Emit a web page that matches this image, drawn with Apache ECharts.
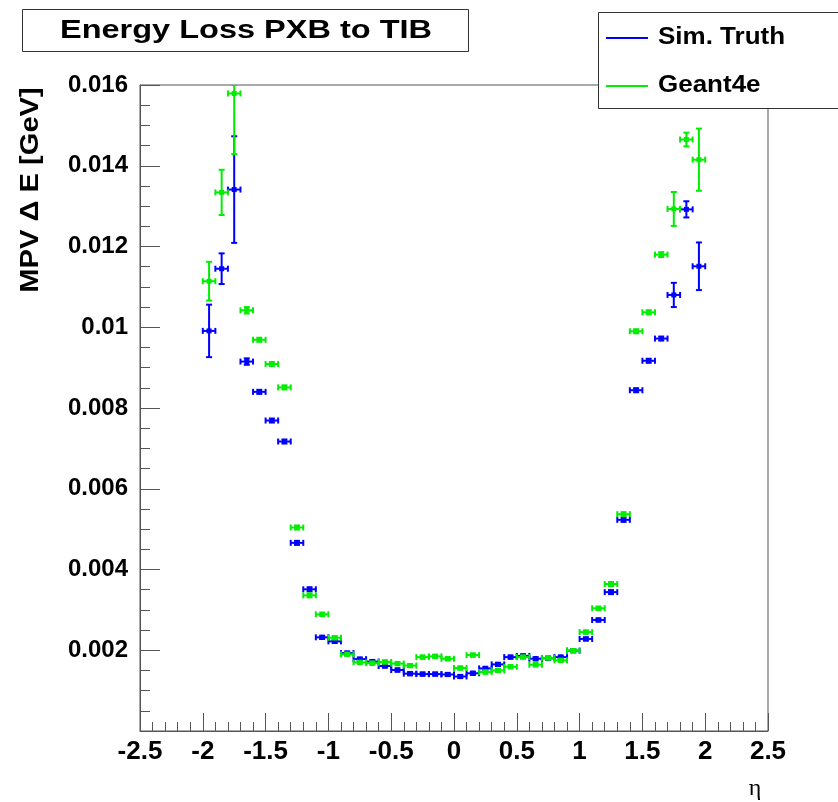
<!DOCTYPE html>
<html>
<head>
<meta charset="utf-8">
<script src="https://cdn.jsdelivr.net/npm/echarts@6/dist/echarts.min.js"></script>
<style>
html,body{margin:0;padding:0;background:#fff;}
#chart{width:838px;height:802px;}
</style>
</head>
<body>
<div id="chart"></div>
<script>
// ---- data ----
const etaBins = [-1.95,-1.85,-1.75,-1.65,-1.55,-1.45,-1.35,-1.25,-1.15,-1.05,-0.95,-0.85,-0.75,-0.65,-0.55,-0.45,-0.35,-0.25,-0.15,-0.05,0.05,0.15,0.25,0.35,0.45,0.55,0.65,0.75,0.85,0.95,1.05,1.15,1.25,1.35,1.45,1.55,1.65,1.75,1.85,1.95];
const etaHalfWidth = 0.05;
const simTruth = [0.00991,0.01145,0.01341,0.00915,0.00840,0.00769,0.00717,0.00466,0.00351,0.00232,0.00222,0.00193,0.00178,0.00172,0.00161,0.00151,0.00142,0.00141,0.00141,0.00140,0.00135,0.00143,0.00155,0.00165,0.00183,0.00186,0.00179,0.00180,0.00183,0.00199,0.00228,0.00275,0.00344,0.00523,0.00844,0.00917,0.00972,0.01080,0.01292,0.01151];
const simTruthErr = [0.00065,0.00038,0.00132,0.00008,0.00005,0.00005,0.00005,0.00005,0.00005,0.00004,0.00004,0.00004,0.00004,0.00004,0.00004,0.00004,0.00004,0.00004,0.00004,0.00004,0.00004,0.00004,0.00004,0.00004,0.00004,0.00004,0.00004,0.00004,0.00004,0.00004,0.00004,0.00004,0.00005,0.00005,0.00005,0.00005,0.00005,0.00030,0.00020,0.00059];
const geant4e = [0.01114,0.01334,0.01579,0.01042,0.00969,0.00909,0.00851,0.00504,0.00336,0.00289,0.00231,0.00190,0.00170,0.00168,0.00171,0.00167,0.00162,0.00183,0.00185,0.00179,0.00156,0.00188,0.00146,0.00150,0.00159,0.00183,0.00164,0.00181,0.00175,0.00199,0.00245,0.00304,0.00364,0.00537,0.00990,0.01037,0.01180,0.01293,0.01465,0.01415];
const geant4eErr = [0.00048,0.00056,0.00150,0.00008,0.00005,0.00005,0.00005,0.00005,0.00005,0.00004,0.00004,0.00004,0.00004,0.00004,0.00004,0.00004,0.00004,0.00004,0.00004,0.00004,0.00004,0.00004,0.00004,0.00004,0.00004,0.00004,0.00004,0.00004,0.00004,0.00004,0.00004,0.00004,0.00005,0.00005,0.00005,0.00005,0.00006,0.00042,0.00017,0.00077];
const xTickMin = -2.5, xTickMax = 2.5, xTickStep = 0.5;
const yTickMin = 0, yTickMax = 0.016, yTickStep = 0.002;
const titleText = 'Energy Loss PXB to TIB';
const seriesNames = ['Sim. Truth', 'Geant4e'];
const seriesColors = ['#0000ff', '#00ee00'];
const yTitle = 'MPV \u0394 E [GeV]';
const xTitle = '\u03b7';

function buildData(vals, errs) {
  return etaBins.map((x, i) => [x, vals[i], errs[i]]);
}

function renderErr(params, api) {
  const x = api.value(0), y = api.value(1), e = api.value(2);
  const color = api.visual('color');
  const c = api.coord([x, y]);
  const l = api.coord([x - etaHalfWidth, y]);
  const r = api.coord([x + etaHalfWidth, y]);
  const t = api.coord([x, Math.min(y + e, yTickMax)]);
  const b = api.coord([x, Math.max(y - e, yTickMin)]);
  const st = {stroke: color, lineWidth: 2};
  const cap = 3;
  return {
    type: 'group',
    children: [
      {type: 'line', shape: {x1: l[0], y1: c[1], x2: r[0], y2: c[1]}, style: st},
      {type: 'line', shape: {x1: l[0], y1: c[1] - cap, x2: l[0], y2: c[1] + cap}, style: st},
      {type: 'line', shape: {x1: r[0], y1: c[1] - cap, x2: r[0], y2: c[1] + cap}, style: st},
      {type: 'line', shape: {x1: c[0], y1: t[1], x2: c[0], y2: b[1]}, style: st},
      {type: 'line', shape: {x1: c[0] - cap, y1: t[1], x2: c[0] + cap, y2: t[1]}, style: st},
      {type: 'line', shape: {x1: c[0] - cap, y1: b[1], x2: c[0] + cap, y2: b[1]}, style: st},
      {type: 'rect', shape: {x: c[0] - 2.5, y: c[1] - 2.5, width: 5, height: 5}, style: {fill: color}}
    ]
  };
}

const chart = echarts.init(document.getElementById('chart'), null, {renderer: 'canvas'});
const axisCol = '#555';
const option = {
  animation: false,
  backgroundColor: '#fff',
  grid: {left: 140, right: 70, top: 85, bottom: 71, show: true, borderColor: axisCol, borderWidth: 1, backgroundColor: 'transparent'},
  xAxis: {
    type: 'value', min: xTickMin, max: xTickMax, interval: xTickStep,
    axisLine: {show: true, onZero: false, lineStyle: {color: axisCol, width: 1}},
    axisTick: {show: true, inside: true, length: 18, lineStyle: {color: axisCol}},
    minorTick: {show: true, splitNumber: 5, length: 9, lineStyle: {color: axisCol}},
    splitLine: {show: false},
    axisLabel: {color: '#000', fontFamily: 'Liberation Sans', fontWeight: 'bold', fontSize: 26, margin: 8,
      formatter: v => String(+v.toFixed(2))}
  },
  yAxis: {
    type: 'value', min: yTickMin, max: yTickMax, interval: yTickStep,
    axisLine: {show: true, onZero: false, lineStyle: {color: axisCol, width: 1}},
    axisTick: {show: true, inside: true, length: 20, lineStyle: {color: axisCol}},
    minorTick: {show: true, splitNumber: 4, length: 10, lineStyle: {color: axisCol}},
    splitLine: {show: false},
    axisLabel: {color: '#000', fontFamily: 'Liberation Sans', fontWeight: 'bold', fontSize: 24, margin: 12,
      formatter: v => (Math.abs(v) < 1e-9 ? '' : String(+v.toFixed(4)))}
  },
  series: [
    {type: 'custom', name: seriesNames[0], renderItem: renderErr, data: buildData(simTruth, simTruthErr),
      itemStyle: {color: seriesColors[0]}, encode: {x: 0, y: 1}, clip: true, z: 2},
    {type: 'custom', name: seriesNames[1], renderItem: renderErr, data: buildData(geant4e, geant4eErr),
      itemStyle: {color: seriesColors[1]}, encode: {x: 0, y: 1}, clip: true, z: 3}
  ],
  graphic: [
    {type: 'rect', z: 100, shape: {x: 22.5, y: 9.5, width: 446, height: 42}, style: {fill: '#fff', stroke: '#333', lineWidth: 1}},
    {type: 'text', z: 101, x: 246, y: 31, scaleX: 1.3, style: {text: titleText, fill: '#000', font: 'bold 25px "Liberation Sans"', textAlign: 'center', textVerticalAlign: 'middle'}},
    {type: 'rect', z: 100, shape: {x: 598.5, y: 12.5, width: 300, height: 96}, style: {fill: '#fff', stroke: '#333', lineWidth: 1}},
    {type: 'line', z: 101, shape: {x1: 606, y1: 38, x2: 648, y2: 38}, style: {stroke: seriesColors[0], lineWidth: 2}},
    {type: 'text', z: 101, x: 658, y: 38, scaleX: 1.13, style: {text: seriesNames[0], fill: '#000', font: 'bold 23px "Liberation Sans"', textAlign: 'left', textVerticalAlign: 'middle'}},
    {type: 'line', z: 101, shape: {x1: 606, y1: 86, x2: 648, y2: 86}, style: {stroke: seriesColors[1], lineWidth: 2}},
    {type: 'text', z: 101, x: 658, y: 86, scaleX: 1.13, style: {text: seriesNames[1], fill: '#000', font: 'bold 23px "Liberation Sans"', textAlign: 'left', textVerticalAlign: 'middle'}},
    {type: 'text', z: 101, x: 31, y: 190, rotation: Math.PI / 2, scaleX: 1.12, style: {text: yTitle, fill: '#000', font: 'bold 26px "Liberation Sans"', textAlign: 'center', textVerticalAlign: 'middle'}},
    {type: 'text', z: 101, x: 755, y: 789, style: {text: xTitle, fill: '#000', font: '24px "Liberation Serif"', textAlign: 'center', textVerticalAlign: 'middle'}}
  ]
};
chart.setOption(option);
</script>
</body>
</html>
